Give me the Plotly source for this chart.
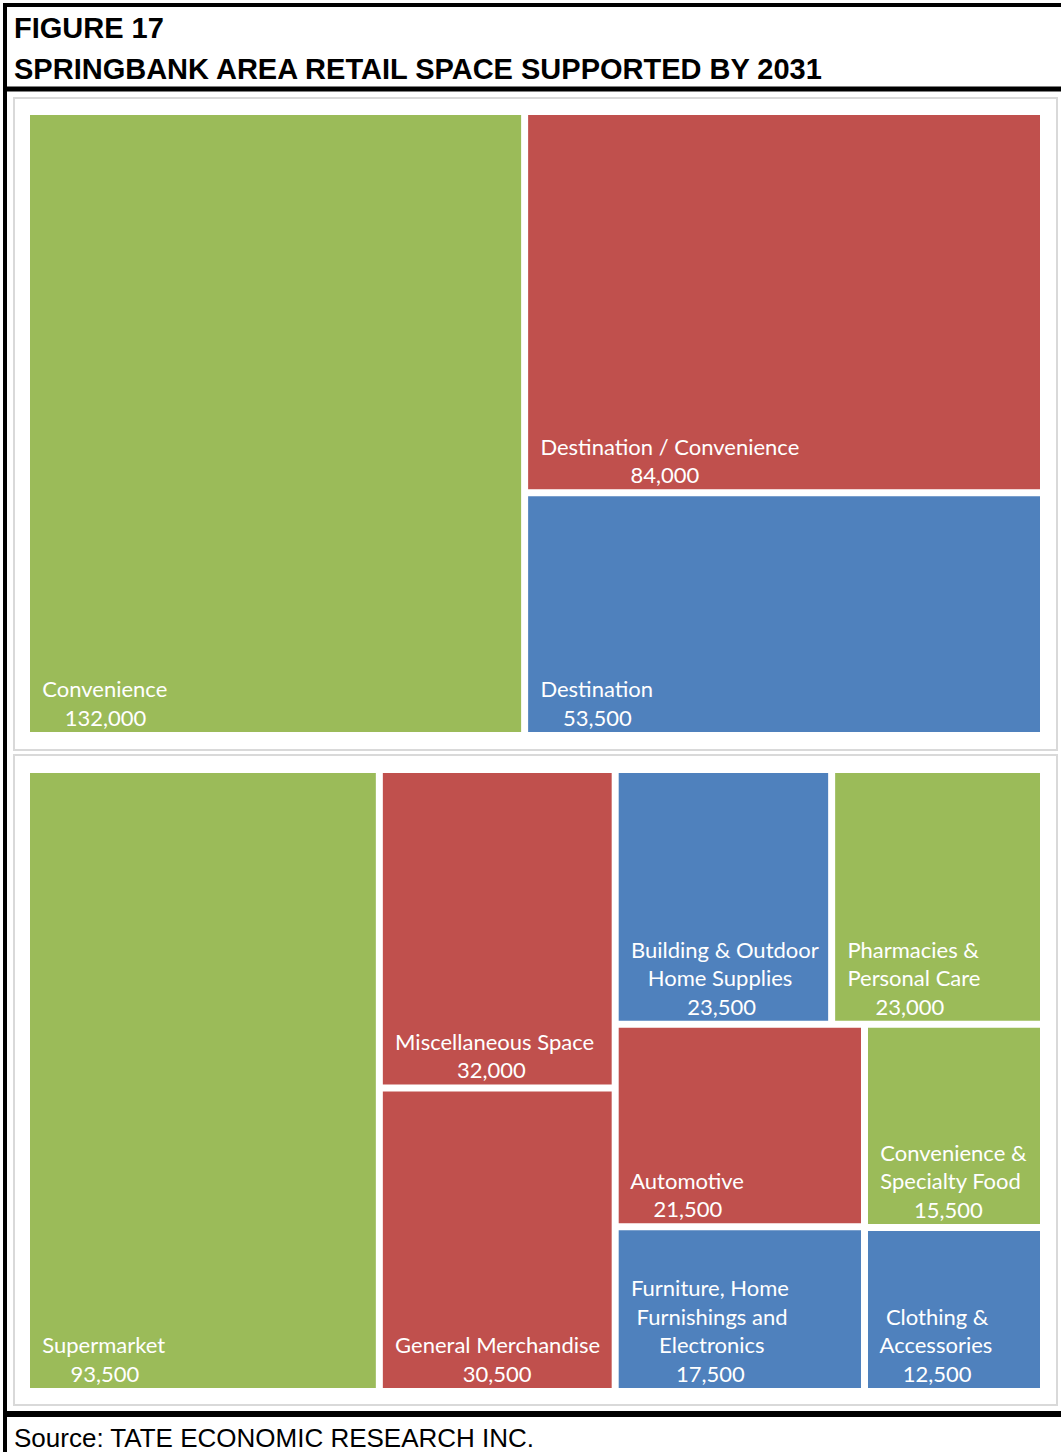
import plotly.graph_objects as go

W, H = 1061, 1452

# ---- data ----
top_labels = ["Convenience", "Destination / Convenience", "Destination"]
top_values = [132000, 84000, 53500]
top_colors = ["#9BBB59", "#C0504D", "#4F81BD"]

bot_labels = ["Supermarket", "Miscellaneous Space", "General Merchandise",
              "Building & Outdoor<br>Home Supplies", "Pharmacies &<br>Personal Care",
              "Automotive", "Furniture, Home<br>Furnishings and<br>Electronics",
              "Convenience &<br>Specialty Food", "Clothing &<br>Accessories"]
bot_values = [93500, 32000, 30500, 23500, 23000, 21500, 17500, 15500, 12500]
bot_colors = ["#9BBB59", "#C0504D", "#C0504D", "#4F81BD", "#9BBB59",
              "#C0504D", "#4F81BD", "#9BBB59", "#4F81BD"]


def px_x(x):
    return x / W


def px_y(y):
    return 1 - y / H


FONT = "Lato"
FSIZE = 22
TXT = dict(family=FONT, size=FSIZE, color="white")

# approximate advance widths (em) for Lato, used to centre lines within a label block
CW = {c: w for c, w in zip("ABCDEFGHIJKLMNOPQRSTUVWXYZ",
                           [.68, .64, .66, .74, .55, .53, .72, .76, .28, .39, .67, .5, .91,
                            .76, .8, .6, .8, .62, .53, .6, .73, .68, 1.0, .66, .63, .6])}
CW.update({c: w for c, w in zip("abcdefghijklmnopqrstuvwxyz",
                                [.49, .56, .46, .56, .52, .32, .5, .56, .23, .23, .5, .23, .84,
                                 .56, .56, .56, .56, .36, .42, .35, .56, .5, .77, .49, .5, .45])})
CW.update({d: .58 for d in "0123456789"})
CW.update({",": .2, " ": .193, "&": .68, "/": .36, ".": .2})
NBSP = "\u00a0"
NBSP_W = 0.264
BASE_PAD = 2


def twidth(s):
    return sum(CW.get(c, .55) for c in s)


def block_text(label, value):
    lines = label.split("<br>") + [f"{value:,}"]
    widths = [twidth(l) for l in lines]
    wmax = max(widths)
    out = []
    for l, w in zip(lines, widths):
        n = BASE_PAD + int(round((wmax - w) / 2 / NBSP_W))
        out.append(NBSP * n + l)
    return "<br>".join(out)


def tm(labels, values, colors, x0, x1, y0, y1):
    return go.Treemap(
        labels=labels,
        parents=[""] * len(labels),
        values=values,
        text=[block_text(l, v) for l, v in zip(labels, values)],
        marker=dict(colors=colors, line=dict(color="white", width=4),
                    pad=dict(t=0, l=0, r=0, b=0)),
        texttemplate="%{text}",
        textposition="bottom left",
        textfont=TXT,
        tiling=dict(packing="squarify", squarifyratio=1),
        pathbar=dict(visible=False),
        sort=True,
        hoverinfo="label+value",
        domain=dict(x=[px_x(x0), px_x(x1)], y=[px_y(y1), px_y(y0)]),
    )


fig = go.Figure()
fig.add_trace(tm(top_labels, top_values, top_colors, 28, 1042, 113, 734))
fig.add_trace(tm(bot_labels, bot_values, bot_colors, 28, 1042, 771, 1390))

shapes = []


def hline(y, x0, x1, w, color="black"):
    shapes.append(dict(type="line", xref="paper", yref="paper",
                       x0=px_x(x0), x1=px_x(x1), y0=px_y(y), y1=px_y(y),
                       line=dict(color=color, width=w)))


def vline(x, y0, y1, w, color="black"):
    shapes.append(dict(type="line", xref="paper", yref="paper",
                       x0=px_x(x), x1=px_x(x), y0=px_y(y0), y1=px_y(y1),
                       line=dict(color=color, width=w)))


def rect(x0, y0, x1, y1, color, w):
    shapes.append(dict(type="rect", xref="paper", yref="paper",
                       x0=px_x(x0), x1=px_x(x1), y0=px_y(y1), y1=px_y(y0),
                       line=dict(color=color, width=w), fillcolor="rgba(0,0,0,0)",
                       layer="below"))


hline(5, 3, W, 4)
vline(5, 3, H, 4)
hline(89, 3, W, 5)
hline(1414, 3, W, 6)
rect(14, 98, 1057, 750, "#D9D9D9", 2)
rect(14, 755, 1057, 1405, "#D9D9D9", 2)

TF = "Liberation Sans, Arial"
annotations = [
    dict(text="<b>FIGURE 17</b>", x=px_x(12), y=px_y(28.5), xref="paper", yref="paper",
         xanchor="left", yanchor="middle", showarrow=False,
         font=dict(family=TF, size=29, color="black")),
    dict(text="<b>SPRINGBANK AREA RETAIL SPACE SUPPORTED BY 2031</b>", x=px_x(12), y=px_y(69),
         xref="paper", yref="paper", xanchor="left", yanchor="middle", showarrow=False,
         font=dict(family=TF, size=29, color="black")),
    dict(text="Source: TATE ECONOMIC RESEARCH INC.", x=px_x(12), y=px_y(1437.5),
         xref="paper", yref="paper", xanchor="left", yanchor="middle", showarrow=False,
         font=dict(family=TF, size=26, color="black")),
]

fig.update_layout(
    width=W, height=H,
    margin=dict(l=0, r=0, t=0, b=0),
    paper_bgcolor="white", plot_bgcolor="white",
    shapes=shapes, annotations=annotations,
    showlegend=False,
)

fig.write_html("out.html")
